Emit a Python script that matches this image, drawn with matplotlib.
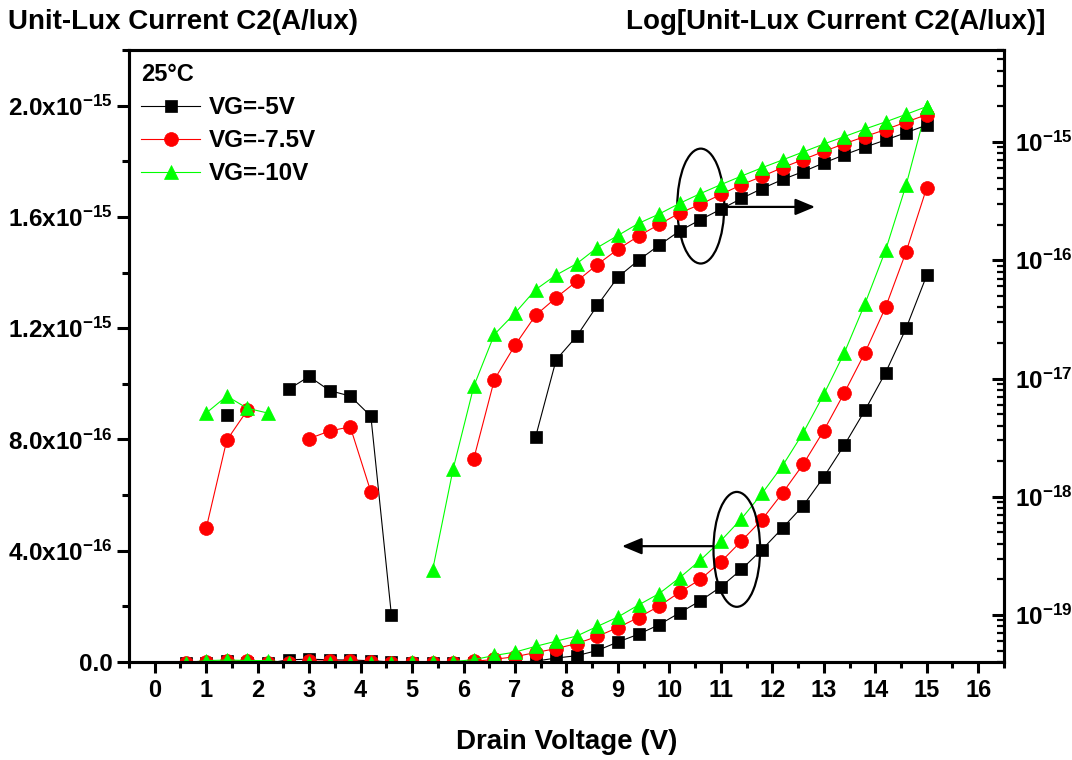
import numpy as np
import matplotlib
matplotlib.use('Agg')
import matplotlib.pyplot as plt
from matplotlib.patches import Ellipse
from matplotlib.ticker import MultipleLocator, FixedLocator, LogLocator, NullFormatter, FuncFormatter

plt.rcParams['font.family'] = ['Liberation Sans', 'DejaVu Sans']
plt.rcParams['font.weight'] = 'bold'
plt.rcParams['mathtext.fontset'] = 'custom'
plt.rcParams['mathtext.rm'] = 'Liberation Sans:bold'
plt.rcParams['mathtext.bf'] = 'Liberation Sans:bold'
plt.rcParams['mathtext.it'] = 'Liberation Sans:bold:italic'
plt.rcParams['mathtext.default'] = 'bf'

# drain voltage sweep (V)
vd = [0.6, 1.0, 1.4, 1.8, 2.2, 2.6, 3.0, 3.4, 3.8, 4.2, 4.6, 5.0, 5.4,
      5.8, 6.2, 6.6, 7.0, 7.4, 7.8, 8.2, 8.6, 9.0, 9.4, 9.8, 10.2, 10.6,
      11.0, 11.4, 11.8, 12.2, 12.6, 13.0, 13.4, 13.8, 14.2, 14.6, 15.0]

# unit-lux current C2 (A/lux), 25C
i_vg5 = [-2e-18, -3e-18, 4.9e-18, -2e-18, -4e-18, 8.1e-18, 1.04e-17, 7.9e-18,
         7.1e-18, 4.8e-18, 9.9e-20, -3e-18, -2e-18, -4e-18, -3e-18, -2e-18,
         -1e-18, 3.2e-18, 1.44e-17, 2.28e-17, 4.15e-17, 7.2e-17, 1.0e-16,
         1.34e-16, 1.77e-16, 2.2e-16, 2.7e-16, 3.33e-16, 4.04e-16, 4.82e-16,
         5.62e-16, 6.65e-16, 7.8e-16, 9.05e-16, 1.04e-15, 1.2e-15, 1.39e-15]

i_vg75 = [-2e-18, 5.4e-19, 3.0e-18, 5.4e-18, -2e-18, -3e-18, 3.1e-18, 3.6e-18,
          3.9e-18, 1.1e-18, -3e-18, -2e-18, -4e-18, -2e-18, 2.1e-18, 9.8e-18,
          1.91e-17, 3.42e-17, 4.83e-17, 6.64e-17, 9.2e-17, 1.24e-16, 1.6e-16,
          2.01e-16, 2.51e-16, 2.97e-16, 3.6e-16, 4.35e-16, 5.12e-16, 6.08e-16,
          7.11e-16, 8.32e-16, 9.68e-16, 1.112e-15, 1.275e-15, 1.475e-15, 1.705e-15]

i_vg10 = [-2e-18, 5.1e-18, 7.1e-18, 5.6e-18, 5.1e-18, -2e-18, -3e-18, -2e-18,
          -4e-18, -2e-18, -3e-18, -1e-18, 2.4e-19, 1.73e-18, 8.6e-18, 2.36e-17,
          3.57e-17, 5.64e-17, 7.5e-17, 9.36e-17, 1.28e-16, 1.62e-16, 2.05e-16,
          2.46e-16, 3.03e-16, 3.66e-16, 4.36e-16, 5.15e-16, 6.06e-16, 7.06e-16,
          8.24e-16, 9.62e-16, 1.112e-15, 1.288e-15, 1.48e-15, 1.715e-15, 1.995e-15]

labels = ['VG=-5V', 'VG=-7.5V', 'VG=-10V']

series = [
    (i_vg5, 'black', 's', 8.4),
    (i_vg75, '#FF0000', 'o', 10),
    (i_vg10, '#00FF00', '^', 10.5),
]

fig = plt.figure(figsize=(10.72, 7.6), dpi=100)
ax = fig.add_axes([0.1203, 0.1289, 0.8162, 0.8053])
ax2 = ax.twinx()
ax2.set_yscale('log')

for (vals, color, marker, ms), lab in zip(series, labels):
    vals = np.array(vals)
    # linear scale: every point
    ax.plot(vd, vals, color=color, lw=0.8, marker=marker, ms=ms,
            mfc=color, mec=color, mew=0.5)
    # log scale: only positive currents
    logv = np.where(vals > 0, vals, np.nan)
    ax2.plot(vd, logv, color=color, lw=0.8, marker=marker, ms=ms,
             mfc=color, mec=color, mew=0.5, label=lab)

# axes limits
ax.set_xlim(-0.5, 16.5)
ax.set_ylim(0, 2.2e-15)
ax2.set_ylim(4e-20, 6e-15)

# ticks
ax.xaxis.set_major_locator(MultipleLocator(1))
ax.xaxis.set_minor_locator(MultipleLocator(0.5))
ax.yaxis.set_major_locator(FixedLocator([0, 4e-16, 8e-16, 1.2e-15, 1.6e-15, 2.0e-15]))
ax.yaxis.set_minor_locator(MultipleLocator(2e-16))


def lin_fmt(v, pos):
    if v == 0:
        return '0.0'
    e = int(np.floor(np.log10(v)))
    return r'$%.1fx10^{%d}$' % (v / 10 ** e, e)


ax.yaxis.set_major_formatter(FuncFormatter(lin_fmt))
ax2.yaxis.set_major_locator(FixedLocator([1e-19, 1e-18, 1e-17, 1e-16, 1e-15]))
ax2.yaxis.set_minor_locator(LogLocator(base=10, subs=range(2, 10), numticks=20))
ax2.yaxis.set_minor_formatter(NullFormatter())
ax2.yaxis.set_major_formatter(FuncFormatter(lambda v, pos: r'$10^{%d}$' % round(np.log10(v))))

ax.tick_params(axis='x', which='major', direction='out', length=8, width=2.2,
               labelsize=17, pad=4)
ax.tick_params(axis='x', which='minor', direction='out', length=4.5, width=2.2)
ax.tick_params(axis='y', which='major', direction='out', length=8.5, width=2.2,
               labelsize=17.5, pad=3.5)
ax.tick_params(axis='y', which='minor', direction='out', length=5, width=2.2)
ax2.tick_params(axis='y', which='major', direction='in', length=8.5, width=2.2,
                labelsize=17.5, pad=8)
ax2.tick_params(axis='y', which='minor', direction='in', length=5, width=1.6)

for a in (ax, ax2):
    for sp in a.spines.values():
        sp.set_linewidth(2.2)

ax.set_xlabel('Drain Voltage (V)', fontsize=20, fontweight='bold', labelpad=20)

fig.text(8 / 1072, 1 - 22 / 760, 'Unit-Lux Current C2(A/lux)', ha='left',
         va='center', fontsize=20, fontweight='bold')
fig.text(1045 / 1072, 1 - 22 / 760, 'Log[Unit-Lux Current C2(A/lux)]', ha='right',
         va='center', fontsize=20, fontweight='bold')

# ellipses marking which curves go with which axis
ax.add_patch(Ellipse((10.61, 1.639e-15), 0.913, 0.413e-15, fill=False,
                     lw=1.6, ec='black', zorder=5))
ax.add_patch(Ellipse((11.31, 0.405e-15), 0.906, 0.413e-15, fill=False,
                     lw=1.6, ec='black', zorder=5))
arrow = dict(arrowstyle='-|>,head_length=0.6,head_width=0.25', color='black',
             lw=1.6, mutation_scale=20, shrinkA=0, shrinkB=0)
ax.annotate('', xy=(12.83, 1.636e-15), xytext=(11.07, 1.636e-15), arrowprops=arrow)
ax.annotate('', xy=(9.08, 0.4165e-15), xytext=(10.85, 0.4165e-15), arrowprops=arrow)

ax2.legend(loc='upper left', bbox_to_anchor=(0.0137, 0.979), frameon=False,
           title='25°C', title_fontproperties={'weight': 'bold', 'size': 17},
           prop={'weight': 'bold', 'size': 17.5}, alignment='left',
           handlelength=2.45, handletextpad=0.35, labelspacing=0.42,
           borderpad=0, borderaxespad=0)

fig.savefig('out.png', dpi=100)
